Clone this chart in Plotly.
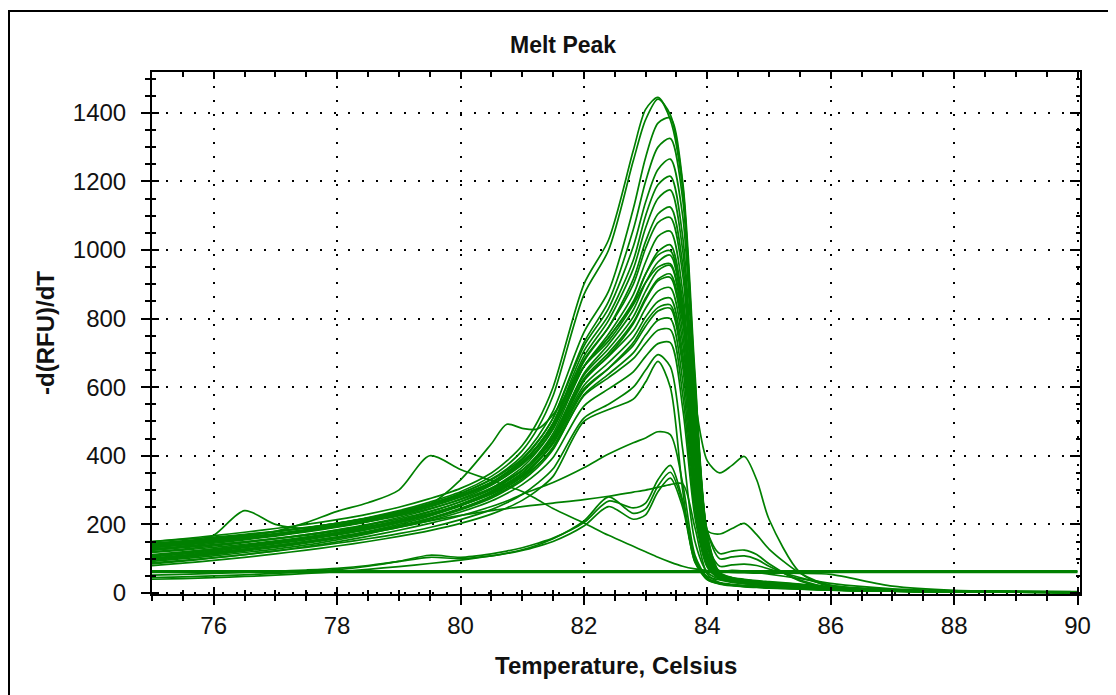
import plotly.graph_objects as go

# Temperature grid (Celsius) at which each melt curve was read
temps = [75, 75.5, 76, 76.5, 77, 77.5, 78, 78.5, 79, 79.5,
         80, 80.5, 80.75, 81, 81.25, 81.5, 82, 82.4, 82.8, 83.0,
         83.2, 83.4, 83.6, 83.8, 84.0, 84.2, 84.4, 84.6, 84.8, 85.0,
         85.5, 86, 87, 88, 90]

# Main family of melt-peak curves (-d(RFU)/dT)
band_curves = [
    [150, 158, 167, 177, 188, 200, 214, 230, 250, 275, 305, 350, 385, 430, 500, 600, 900, 1030, 1290, 1410, 1445, 1380, 1180, 620, 170, 60, 45, 40, 36, 33, 26, 18, 9, 5, 2],
    [140, 148, 157, 167, 178, 190, 204, 220, 240, 265, 295, 340, 372, 415, 480, 575, 870, 1000, 1260, 1380, 1440, 1395, 1190, 600, 165, 58, 44, 38, 34, 31, 25, 17, 9, 5, 3],
    [135, 143, 152, 162, 173, 185, 199, 215, 235, 260, 290, 332, 362, 400, 455, 530, 760, 880, 1120, 1270, 1370, 1385, 1200, 640, 180, 115, 122, 125, 112, 85, 35, 15, 7, 4, 2],
    [128, 136, 145, 155, 166, 178, 192, 208, 228, 252, 282, 322, 352, 388, 440, 510, 730, 850, 1060, 1200, 1300, 1325, 1150, 600, 180, 100, 105, 108, 98, 78, 38, 16, 7, 4, 2],
    [145, 152, 160, 169, 179, 190, 203, 218, 237, 260, 290, 330, 358, 392, 442, 510, 720, 830, 1010, 1140, 1235, 1265, 1100, 560, 150, 55, 42, 36, 32, 29, 23, 16, 8, 5, 2],
    [120, 128, 137, 147, 158, 170, 184, 200, 220, 244, 274, 314, 343, 378, 428, 495, 705, 810, 970, 1100, 1190, 1215, 1040, 520, 140, 56, 44, 38, 34, 30, 24, 17, 9, 5, 3],
    [132, 140, 148, 158, 168, 180, 193, 209, 228, 252, 282, 320, 348, 382, 430, 495, 690, 795, 945, 1065, 1150, 1175, 1000, 500, 135, 52, 40, 35, 31, 28, 22, 15, 8, 4, 2],
    [112, 120, 129, 139, 150, 162, 176, 192, 212, 236, 266, 305, 333, 366, 414, 478, 675, 775, 915, 1025, 1105, 1125, 960, 470, 140, 78, 82, 84, 80, 70, 45, 22, 9, 5, 2],
    [150, 156, 163, 171, 180, 191, 203, 218, 236, 258, 286, 323, 350, 382, 428, 490, 680, 775, 900, 1005, 1080, 1095, 930, 450, 120, 50, 39, 34, 30, 27, 21, 15, 8, 4, 2],
    [105, 113, 122, 132, 143, 155, 169, 185, 205, 229, 259, 297, 325, 357, 403, 465, 660, 755, 870, 965, 1040, 1055, 880, 420, 115, 50, 40, 35, 31, 28, 22, 16, 8, 5, 2],
    [138, 145, 153, 162, 172, 183, 196, 211, 229, 251, 279, 316, 342, 374, 418, 478, 660, 745, 845, 930, 995, 1015, 850, 400, 110, 48, 38, 33, 29, 26, 20, 14, 7, 4, 2],
    [100, 108, 117, 127, 138, 150, 164, 180, 200, 224, 254, 291, 318, 350, 394, 452, 640, 725, 825, 905, 965, 985, 820, 380, 105, 48, 38, 33, 30, 27, 21, 15, 8, 4, 2],
    [125, 132, 140, 149, 159, 170, 183, 198, 216, 238, 266, 302, 328, 358, 400, 458, 635, 712, 805, 880, 940, 955, 800, 370, 110, 65, 66, 64, 60, 55, 42, 28, 12, 6, 3],
    [95, 103, 112, 122, 133, 145, 159, 175, 195, 218, 247, 283, 309, 340, 383, 440, 618, 692, 785, 855, 910, 920, 760, 340, 100, 46, 36, 31, 28, 25, 20, 14, 7, 4, 2],
    [142, 148, 155, 163, 172, 182, 194, 208, 225, 246, 272, 306, 330, 358, 398, 452, 622, 690, 765, 830, 880, 890, 730, 320, 95, 46, 37, 32, 29, 26, 20, 14, 7, 4, 2],
    [108, 116, 125, 135, 146, 158, 171, 186, 205, 227, 255, 290, 315, 344, 385, 440, 605, 672, 745, 805, 850, 860, 700, 300, 90, 45, 36, 31, 28, 25, 19, 13, 7, 4, 2],
    [118, 125, 133, 142, 152, 163, 176, 191, 209, 231, 258, 292, 316, 344, 383, 435, 595, 655, 722, 778, 822, 830, 660, 280, 88, 44, 36, 31, 27, 24, 19, 13, 7, 4, 2],
    [98, 106, 115, 125, 136, 148, 161, 176, 194, 215, 242, 276, 300, 328, 366, 418, 578, 638, 700, 752, 795, 800, 620, 260, 85, 44, 35, 30, 27, 24, 18, 12, 6, 4, 2],
    [128, 134, 141, 149, 158, 168, 180, 194, 211, 231, 256, 288, 311, 338, 374, 422, 575, 628, 683, 728, 766, 768, 580, 240, 80, 44, 35, 30, 27, 24, 18, 12, 6, 4, 2],
    [102, 110, 119, 128, 138, 149, 161, 175, 191, 211, 236, 268, 290, 316, 350, 395, 545, 595, 645, 690, 727, 730, 540, 220, 75, 42, 34, 29, 26, 23, 18, 12, 6, 3, 2],
    [88, 95, 103, 112, 122, 133, 145, 158, 173, 191, 214, 243, 263, 287, 320, 362, 510, 550, 600, 650, 695, 660, 420, 150, 60, 40, 32, 28, 25, 22, 17, 11, 6, 3, 2],
    [80, 87, 95, 104, 114, 125, 137, 150, 165, 182, 203, 230, 248, 270, 300, 340, 500, 535, 565, 615, 675, 600, 300, 90, 48, 38, 31, 27, 24, 21, 16, 11, 6, 3, 2],
]

# Curves with a secondary peak after the main melt
shoulder_high = [110, 118, 127, 137, 148, 160, 173, 188, 207, 230, 258, 295, 320, 350, 392, 448, 625, 700, 790, 860, 915, 930, 790, 560, 385, 350, 372, 398, 330, 215, 60, 18, 8, 5, 3]
shoulder_mid = [100, 108, 117, 127, 138, 150, 163, 178, 196, 218, 245, 280, 304, 333, 373, 426, 590, 655, 730, 790, 832, 840, 680, 400, 182, 172, 188, 203, 170, 128, 58, 22, 8, 5, 3]

# Outlier curves
hump_79 = [145, 150, 157, 166, 180, 205, 238, 263, 300, 400, 360, 328, 312, 296, 272, 246, 204, 168, 136, 120, 104, 90, 78, 70, 65, 62, 60, 59, 58, 58, 57, 54, 20, 8, 4]
hump_81 = [132, 140, 149, 158, 168, 180, 194, 210, 230, 258, 330, 435, 492, 480, 478, 520, 660, 735, 840, 905, 950, 960, 800, 380, 110, 45, 34, 28, 24, 21, 16, 10, 5, 3, 2]
hump_76 = [125, 135, 168, 240, 200, 188, 198, 213, 232, 256, 285, 322, 348, 380, 425, 485, 660, 745, 850, 930, 985, 998, 830, 400, 115, 46, 34, 29, 25, 22, 16, 10, 5, 3, 2]
slow_linear = [92, 100, 108, 118, 128, 140, 155, 172, 192, 210, 226, 240, 246, 252, 257, 262, 272, 282, 294, 300, 308, 316, 318, 190, 55, 30, 24, 21, 19, 17, 13, 9, 5, 3, 2]
slow_rise = [85, 93, 102, 112, 123, 135, 149, 165, 183, 203, 225, 252, 268, 288, 305, 322, 365, 405, 438, 452, 470, 462, 320, 110, 45, 30, 25, 22, 20, 18, 14, 9, 5, 3, 2]
low_a = [45, 47, 50, 53, 57, 62, 68, 78, 92, 110, 104, 114, 122, 132, 145, 160, 205, 268, 248, 262, 330, 372, 270, 100, 42, 28, 23, 20, 18, 16, 12, 9, 5, 3, 2]
low_b = [40, 42, 45, 48, 52, 57, 62, 69, 77, 86, 96, 108, 116, 126, 140, 158, 210, 280, 232, 245, 312, 352, 262, 95, 40, 27, 22, 19, 17, 15, 12, 8, 5, 3, 2]
low_c = [52, 54, 57, 60, 63, 67, 72, 80, 92, 104, 100, 108, 115, 124, 136, 150, 195, 252, 215, 228, 295, 335, 250, 90, 38, 26, 21, 18, 16, 14, 11, 8, 5, 3, 2]

# Flat (no-amplification) traces
flat_1 = [61, 61, 61, 61, 61, 61, 61, 61, 61, 61, 61, 61, 61, 61, 61, 61, 61, 61, 61, 61, 61, 61, 61, 61, 61, 61, 61, 61, 61, 61, 61, 61, 61, 61, 61]
flat_2 = [64, 64, 64, 64, 64, 64, 64, 64, 64, 64, 64, 64, 64, 64, 64, 64, 64, 64, 64, 64, 64, 64, 64, 64, 64, 64, 64, 64, 64, 64, 64, 64, 64, 64, 64]

x_ticks = [76, 78, 80, 82, 84, 86, 88, 90]
y_ticks = [0, 200, 400, 600, 800, 1000, 1200, 1400]

GREEN = "#008000"
FONT = "Liberation Sans, Arial, sans-serif"
X_RANGE = [75, 90.04]
Y_RANGE = [-3, 1519]

# page body adds an 8px offset; figure sized so it ends at the window edge
FIG_W, FIG_H = 1108, 687
L, T, R, B = 144, 64, 36, 101
PW = FIG_W - L - R
PH = FIG_H - T - B

def px_x(sx):
    return (sx - 8 - L) / PW

def px_y(sy):
    return (FIG_H - B - (sy - 8)) / PH

fig = go.Figure()

def add_curve(vals, xa="x", ya="y", width=1.7):
    fig.add_trace(go.Scatter(
        x=temps, y=vals, mode="lines", xaxis=xa, yaxis=ya,
        line=dict(color=GREEN, width=width, shape="spline", smoothing=0.8),
        hoverinfo="skip", showlegend=False))

for c in band_curves:
    add_curve(c)
for c in [shoulder_high, shoulder_mid, hump_79, hump_81, hump_76,
          slow_linear, slow_rise, low_a, low_b, low_c]:
    add_curve(c)
add_curve(flat_1, "x2", "y2", 2.2)
add_curve(flat_2, "x3", "y3", 2.2)

tickfont = dict(family=FONT, size=24, color="#111")

fig.update_layout(
    width=FIG_W, height=FIG_H,
    margin=dict(l=L, r=R, t=T, b=B),
    paper_bgcolor="white", plot_bgcolor="white",
    showlegend=False,
    xaxis=dict(
        range=X_RANGE, tickmode="array", tickvals=x_ticks,
        ticktext=[str(v) for v in x_ticks],
        ticks="outside", ticklen=9, tickwidth=2, tickcolor="black",
        showline=True, linecolor="black", linewidth=2,
        showgrid=True, gridcolor="black", gridwidth=1.5, griddash="2px,12px",
        zeroline=False, tickfont=tickfont, ticklabelstandoff=0,
        minor=dict(tick0=75, dtick=0.5, ticks="outside", ticklen=5,
                   tickwidth=1.5, tickcolor="black", showgrid=False),
    ),
    yaxis=dict(
        range=Y_RANGE, tickmode="array", tickvals=y_ticks,
        ticktext=[str(v) for v in y_ticks],
        ticks="outside", ticklen=9, tickwidth=2, tickcolor="black",
        showline=True, linecolor="black", linewidth=2,
        showgrid=True, gridcolor="black", gridwidth=1.5, griddash="2px,12px",
        zeroline=False, tickfont=tickfont, ticklabelstandoff=10,
        minor=dict(tick0=0, dtick=50, ticks="outside", ticklen=5,
                   tickwidth=1.5, tickcolor="black", showgrid=False),
    ),
    xaxis2=dict(
        range=X_RANGE, overlaying="x", side="top", anchor="y",
        tickmode="array", tickvals=x_ticks, ticks="inside", ticklen=7,
        tickwidth=2, tickcolor="black", showticklabels=False,
        showline=True, linecolor="black", linewidth=2, showgrid=False, zeroline=False,
        minor=dict(tick0=75, dtick=0.5, ticks="inside", ticklen=5,
                   tickwidth=1.5, tickcolor="black", showgrid=False),
    ),
    yaxis2=dict(
        range=Y_RANGE, overlaying="y", side="right", anchor="x",
        tickmode="array", tickvals=y_ticks, ticks="inside", ticklen=10,
        tickwidth=2, tickcolor="black", showticklabels=False,
        showline=True, linecolor="black", linewidth=2, showgrid=False, zeroline=False,
        minor=dict(tick0=0, dtick=50, ticks="inside", ticklen=4,
                   tickwidth=1.5, tickcolor="black", showgrid=False),
    ),
    xaxis3=dict(
        range=X_RANGE, overlaying="x", side="bottom", anchor="y",
        tickmode="array", tickvals=x_ticks, ticks="inside", ticklen=7,
        tickwidth=2, tickcolor="black", showticklabels=False,
        showline=False, showgrid=False, zeroline=False,
        minor=dict(tick0=75, dtick=0.5, ticks="inside", ticklen=4,
                   tickwidth=1.5, tickcolor="black", showgrid=False),
    ),
    yaxis3=dict(
        range=Y_RANGE, overlaying="y", side="left", anchor="x",
        tickmode="array", tickvals=y_ticks, ticks="inside", ticklen=7,
        tickwidth=2, tickcolor="black", showticklabels=False,
        showline=False, showgrid=False, zeroline=False,
        minor=dict(tick0=0, dtick=50, ticks="inside", ticklen=4,
                   tickwidth=1.5, tickcolor="black", showgrid=False),
    ),
    annotations=[
        dict(text="<b>Melt Peak</b>", xref="paper", yref="paper",
             x=px_x(563), y=px_y(44.5),
             xanchor="center", yanchor="middle", showarrow=False,
             font=dict(family=FONT, size=23, color="#111")),
        dict(text="<b>Temperature, Celsius</b>", xref="paper", yref="paper",
             x=0.5, y=px_y(665), xanchor="center", yanchor="middle",
             showarrow=False, font=dict(family=FONT, size=24, color="#111")),
        dict(text="<b>-d(RFU)/dT</b>", xref="paper", yref="paper",
             x=px_x(45), y=0.5, xanchor="center", yanchor="middle",
             textangle=-90, showarrow=False,
             font=dict(family=FONT, size=24, color="#111")),
    ],
    shapes=[
        dict(type="rect", xref="paper", yref="paper",
             x0=px_x(9), x1=px_x(1114),
             y0=px_y(720), y1=px_y(11),
             line=dict(color="black", width=2), fillcolor="rgba(0,0,0,0)", layer="above"),
    ],
)

fig.write_html("out.html")
